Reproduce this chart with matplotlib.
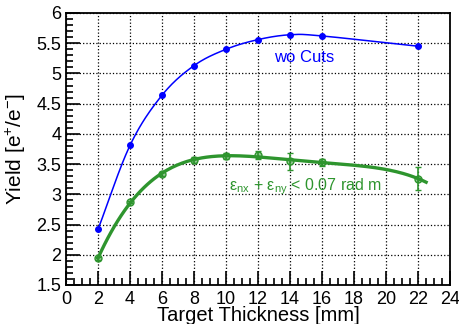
import numpy as np
import matplotlib
matplotlib.use("Agg")
import matplotlib.pyplot as plt
from matplotlib.ticker import MultipleLocator

plt.rcParams['font.family'] = ['Liberation Sans', 'DejaVu Sans']
plt.rcParams['mathtext.default'] = 'regular'

thickness = [2, 4, 6, 8, 10, 12, 14, 16, 22]
yieldNoCut = [2.42, 3.81, 4.64, 5.13, 5.40, 5.56, 5.64, 5.62, 5.45]
yieldCut = [1.94, 2.87, 3.34, 3.57, 3.63, 3.65, 3.55, 3.53, 3.26]
yieldCutErr = [0.02, 0.02, 0.03, 0.05, 0.05, 0.06, 0.14, 0.06, 0.19]

blue = '#0000ff'
green = '#2e952e'


def smoothCurve(x, y, n=30):
  # Catmull-Rom through the points, like ROOT's "C" option
  x = np.asarray(x, float)
  y = np.asarray(y, float)
  px = np.concatenate([[2 * x[0] - x[1]], x, [2 * x[-1] - x[-2]]])
  py = np.concatenate([[2 * y[0] - y[1]], y, [2 * y[-1] - y[-2]]])
  xs, ys = [], []
  t = np.linspace(0, 1, n)
  for i in range(1, len(px) - 2):
    for arr, out in ((px, xs), (py, ys)):
      p0, p1, p2, p3 = arr[i - 1], arr[i], arr[i + 1], arr[i + 2]
      out.extend(0.5 * (2 * p1 + (-p0 + p2) * t + (2 * p0 - 5 * p1 + 4 * p2 - p3) * t ** 2
                        + (-p0 + 3 * p1 - 3 * p2 + p3) * t ** 3))
  return xs, ys


def main():
  fig = plt.figure(figsize=(4.6, 3.24), dpi=100)
  ax = fig.add_axes([0.1435, 0.1204, 0.835, 0.8395])

  bx, by = smoothCurve(thickness, yieldNoCut)
  ax.plot(bx, by, color=blue, lw=1.1)
  ax.plot(thickness, yieldNoCut, 'o', color=blue, ms=4)

  coef = np.polyfit(thickness, yieldCut, 4)
  fx = np.linspace(thickness[0], 22.5, 200)
  ax.plot(fx, np.polyval(coef, fx), color=green, lw=2.4)
  ax.errorbar(thickness, yieldCut, yerr=yieldCutErr, fmt='o', color=green, ms=5,
              mfc=(0.18, 0.58, 0.18, 0.5), mec=green, elinewidth=1.2, capsize=2.5)

  ax.text(13.0, 5.27, 'wo Cuts', color=blue, fontsize=12, va='center')
  ax.text(10.2, 3.13, 'ε$_{nx}$ + ε$_{ny}$ < 0.07 rad m', color=green,
          fontsize=11.5, va='center')

  ax.set_xlim(0, 24)
  ax.set_ylim(1.5, 6)
  ax.xaxis.set_major_locator(MultipleLocator(2))
  ax.xaxis.set_minor_locator(MultipleLocator(0.5))
  ax.yaxis.set_major_locator(MultipleLocator(0.5))
  ax.yaxis.set_minor_locator(MultipleLocator(0.1))
  ax.set_xticklabels([f'{int(v)}' for v in ax.get_xticks()])
  ax.set_yticklabels([f'{v:g}' for v in ax.get_yticks()])
  ax.tick_params(which='both', direction='in', labelsize=13, width=1.2)
  ax.tick_params(which='major', length=10)
  ax.tick_params(which='minor', length=5)
  ax.tick_params(axis='x', pad=4)
  ax.grid(True, which='major', color='black', ls=':', lw=0.9)
  for s in ax.spines.values():
    s.set_linewidth(1.3)

  ax.set_xlabel('Target Thickness [mm]', fontsize=14.5, labelpad=-1)
  ax.set_ylabel('Yield [e$^{+}$/e$^{-}$]', fontsize=15, labelpad=6)

  fig.savefig('out.png', dpi=100)


if __name__ == "__main__":
  main()
